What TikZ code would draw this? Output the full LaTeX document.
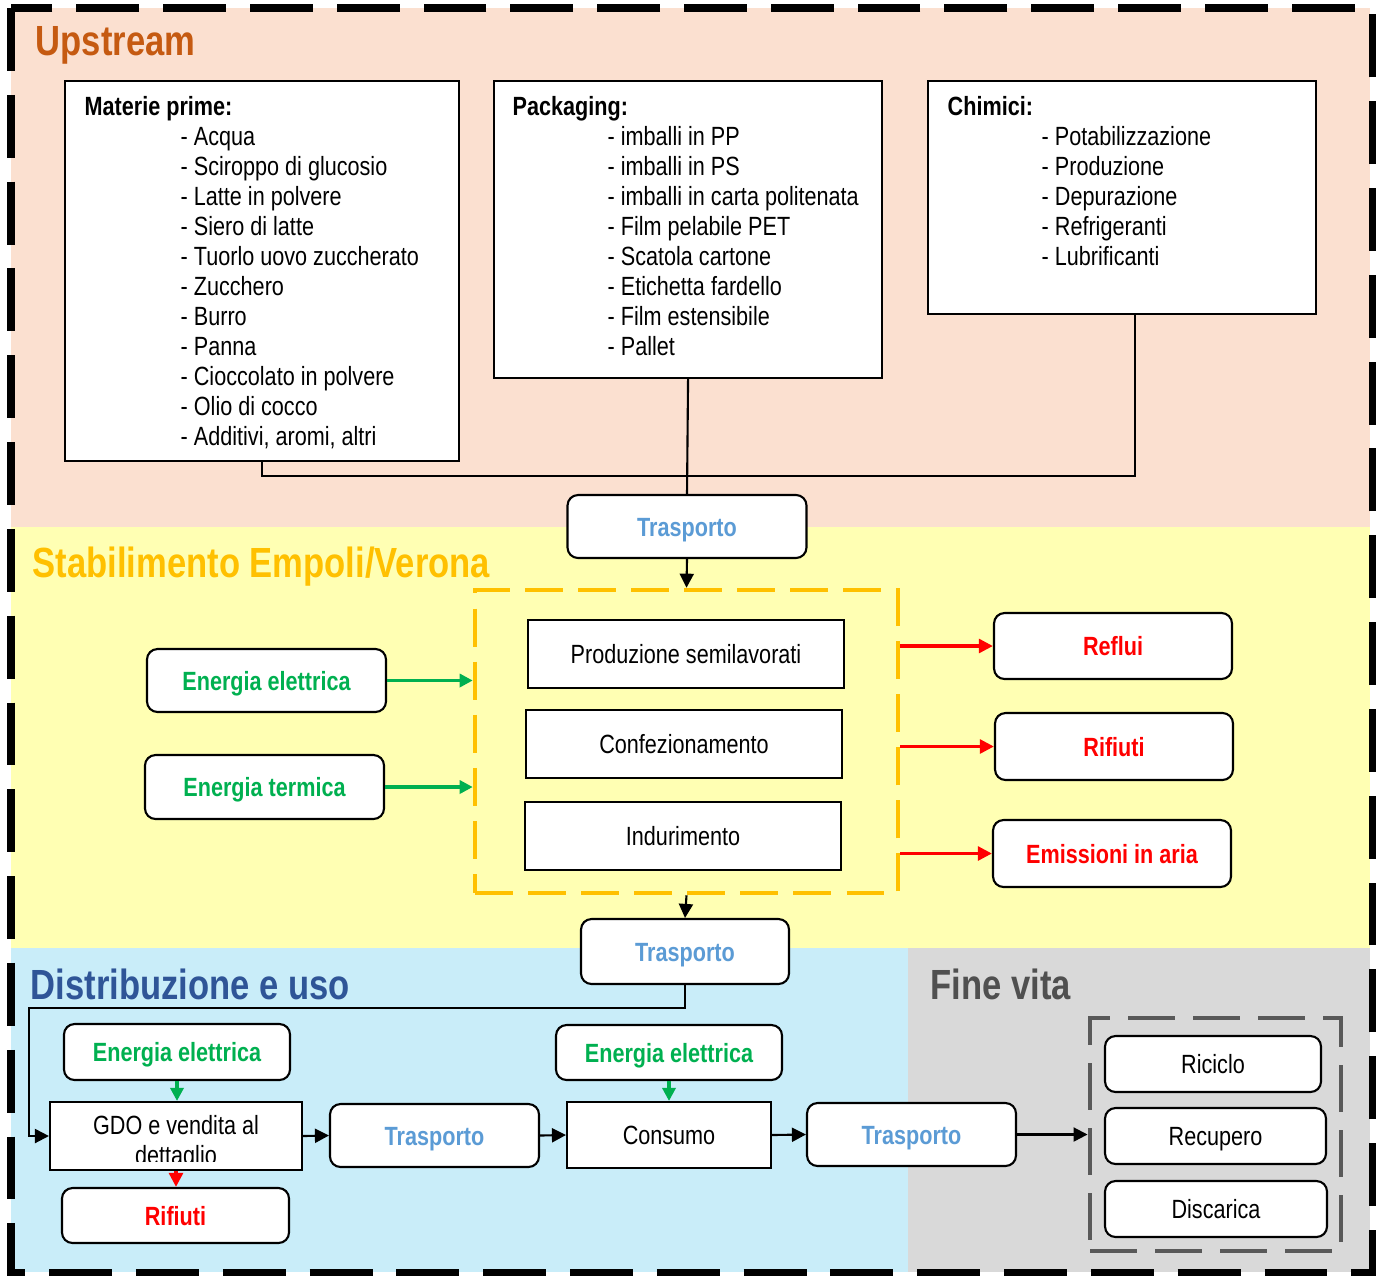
\documentclass[tikz,border=0pt]{standalone}
\usepackage{fontspec}
\setmainfont{Liberation Sans}[FakeStretch=0.82]
\usetikzlibrary{arrows.meta,positioning}

\definecolor{upcol}{HTML}{C55A11}
\definecolor{stabcol}{HTML}{FFC000}
\definecolor{distcol}{HTML}{2F5597}
\definecolor{finecol}{HTML}{505050}
\definecolor{upfill}{HTML}{FBE0D0}
\definecolor{stabfill}{HTML}{FFFFB3}
\definecolor{distfill}{HTML}{C9EDF9}
\definecolor{finefill}{HTML}{D9D9D9}
\definecolor{energy}{HTML}{00B050}
\definecolor{trasp}{HTML}{5B9BD5}
\definecolor{waste}{HTML}{FF0000}
\definecolor{dashgray}{HTML}{595959}

\tikzset{
  txt/.style={font=\fontsize{7.5}{8.54}\selectfont},
  zone/.style={anchor=base west, inner sep=0pt, font=\fontsize{12}{14}\selectfont\bfseries},
  listbox/.style={draw, line width=0.6pt, fill=white, anchor=north west, inner sep=0pt},
  listtext/.style={txt, align=left, anchor=north west, inner sep=0pt},
  plainbox/.style={txt, draw, line width=0.6pt, fill=white, text height=5.4pt, text depth=0pt},
  roundbox/.style={plainbox, rounded corners=3pt, font=\fontsize{7.5}{8.54}\selectfont\bfseries},
  flow/.style={line width=0.6pt, -{Triangle[length=4pt,width=4pt]}},
  inflow/.style={energy, line width=1.1pt, -{Triangle[length=3.7pt,width=3.7pt]}},
  outflow/.style={waste, line width=1.1pt, -{Triangle[length=4pt,width=3.9pt]}},
}

\begin{document}
\begin{tikzpicture}
\useasboundingbox (0,0) rectangle (13.81,-12.76);

%% The coloured zones
\fill[upfill] (0.11,-0.08) rectangle (13.70,-5.27);
\fill[stabfill] (0.11,-5.27) rectangle (13.70,-9.48);
\fill[distfill] (0.11,-9.48) rectangle (9.08,-12.72);
\fill[finefill] (9.08,-9.48) rectangle (13.70,-12.72);

%% The zone titles
\node[zone, text=upcol] (t-up) at (0.35,-0.55) {Upstream};
\node[zone, text=stabcol] (t-stab) at (0.32,-5.77) {Stabilimento Empoli/Verona};
\node[zone, text=distcol] (t-dist) at (0.30,-9.99) {Distribuzione e uso};
\node[zone, text=finecol] (t-fine) at (9.30,-9.99) {Fine vita};

%% Upstream boxes
\node[listbox, minimum width=3.94cm, minimum height=3.80cm] (materie) at (0.64,-0.80) {};
\node[listtext] (materie-txt) at ([shift={(0.20,-0.16)}]materie.north west) {\textbf{Materie prime:}\\
\hspace*{0.96cm}- Acqua\\
\hspace*{0.96cm}- Sciroppo di glucosio\\
\hspace*{0.96cm}- Latte in polvere\\
\hspace*{0.96cm}- Siero di latte\\
\hspace*{0.96cm}- Tuorlo uovo zuccherato\\
\hspace*{0.96cm}- Zucchero\\
\hspace*{0.96cm}- Burro\\
\hspace*{0.96cm}- Panna\\
\hspace*{0.96cm}- Cioccolato in polvere\\
\hspace*{0.96cm}- Olio di cocco\\
\hspace*{0.96cm}- Additivi, aromi, altri};

\node[listbox, minimum width=3.88cm, minimum height=2.97cm] (packaging) at (4.93,-0.80) {};
\node[listtext] (packaging-txt) at ([shift={(0.19,-0.16)}]packaging.north west) {\textbf{Packaging:}\\
\hspace*{0.95cm}- imballi in PP\\
\hspace*{0.95cm}- imballi in PS\\
\hspace*{0.95cm}- imballi in carta politenata\\
\hspace*{0.95cm}- Film pelabile PET\\
\hspace*{0.95cm}- Scatola cartone\\
\hspace*{0.95cm}- Etichetta fardello\\
\hspace*{0.95cm}- Film estensibile\\
\hspace*{0.95cm}- Pallet};

\node[listbox, minimum width=3.88cm, minimum height=2.33cm] (chimici) at (9.27,-0.80) {};
\node[listtext] (chimici-txt) at ([shift={(0.20,-0.16)}]chimici.north west) {\textbf{Chimici:}\\
\hspace*{0.94cm}- Potabilizzazione\\
\hspace*{0.94cm}- Produzione\\
\hspace*{0.94cm}- Depurazione\\
\hspace*{0.94cm}- Refrigeranti\\
\hspace*{0.94cm}- Lubrificanti};

\node[roundbox, text=trasp, minimum width=2.39cm, minimum height=0.63cm] (trasp1) at (6.87,-5.265) {Trasporto};

%% joining the upstream boxes
\coordinate (join) at (6.87,-4.76);
\draw[line width=0.6pt] (materie.south) |- (join) -| ([xshift=0.13cm]chimici.south);
\draw[line width=0.6pt] (packaging.south) -- (trasp1.north);

%% Stabilimento
\node[draw=stabcol, line width=1.3pt, dash pattern=on 10.8pt off 4.3pt, minimum width=4.23cm, minimum height=3.03cm] (stab) at (6.865,-7.415) {};
\node[plainbox, minimum width=3.16cm, minimum height=0.68cm] (prod) at (6.86,-6.54) {Produzione semilavorati};
\node[plainbox, minimum width=3.16cm, minimum height=0.68cm] (conf) at (6.84,-7.44) {Confezionamento};
\node[plainbox, minimum width=3.16cm, minimum height=0.68cm] (indur) at (6.83,-8.36) {Indurimento};

\node[roundbox, text=energy, minimum width=2.39cm, minimum height=0.63cm] (el1) at (2.665,-6.805) {Energia elettrica};
\node[roundbox, text=energy, minimum width=2.39cm, minimum height=0.64cm] (term) at (2.645,-7.87) {Energia termica};

\node[roundbox, text=waste, minimum width=2.38cm, minimum height=0.66cm] (reflui) at (11.13,-6.46) {Reflui};
\node[roundbox, text=waste, minimum width=2.38cm, minimum height=0.67cm] (rifiuti1) at (11.14,-7.465) {Rifiuti};
\node[roundbox, text=waste, minimum width=2.38cm, minimum height=0.67cm] (emiss) at (11.12,-8.535) {Emissioni in aria};

\node[roundbox, text=trasp, minimum width=2.08cm, minimum height=0.65cm] (trasp2) at (6.85,-9.515) {Trasporto};

\draw[flow] (trasp1.south) -- (stab.north);
\draw[inflow] (el1.east) -- (el1.east -| stab.west);
\draw[inflow] (term.east) -- (term.east -| stab.west);
\draw[outflow] (stab.east |- reflui.west) -- (reflui.west);
\draw[outflow] (stab.east |- rifiuti1.west) -- (rifiuti1.west);
\draw[outflow] (stab.east |- emiss.west) -- (emiss.west);
\draw[flow] (stab.south) -- (trasp2.north);

%% Distribuzione e uso
\node[plainbox, minimum width=2.52cm, minimum height=0.68cm] (gdo) at (1.76,-11.36) {};
\begin{scope}
\clip (gdo.north west) rectangle ([yshift=0.10cm]gdo.south east);
\node[txt, align=center] (gdo-txt) at (1.76,-11.43) {GDO e vendita al\\dettaglio};
\end{scope}

\node[roundbox, text=energy, minimum width=2.26cm, minimum height=0.56cm] (el3) at (1.77,-10.52) {Energia elettrica};
\node[roundbox, text=waste, minimum width=2.27cm, minimum height=0.55cm] (rif2) at (1.755,-12.155) {Rifiuti};
\node[roundbox, text=trasp, minimum width=2.09cm, minimum height=0.63cm] (trasp3) at (4.345,-11.355) {Trasporto};
\node[plainbox, minimum width=2.04cm, minimum height=0.66cm] (consumo) at (6.69,-11.35) {Consumo};
\node[roundbox, text=energy, minimum width=2.26cm, minimum height=0.55cm] (el4) at (6.69,-10.525) {Energia elettrica};
\node[roundbox, text=trasp, minimum width=2.09cm, minimum height=0.63cm] (trasp4) at (9.115,-11.345) {Trasporto};

\coordinate (bend) at (0.29,-10.08);
\draw[flow] (trasp2.south) |- (bend) |- (gdo.west);
\draw[flow] (gdo.east) -- (trasp3.west);
\draw[flow] (trasp3.east) -- (consumo.west);
\draw[flow] (consumo.east) -- (trasp4.west);
\draw[inflow] (el3.south) -- (el3.south |- gdo.north);
\draw[inflow] (el4.south) -- (el4.south |- consumo.north);
\draw[outflow] (gdo.south) -- (gdo.south |- rif2.north);

%% Fine vita
\node[draw=dashgray, line width=1.4pt, dash pattern=on 13.3pt off 5.2pt, minimum width=2.51cm, minimum height=2.33cm] (finebox) at (12.155,-11.345) {};
\node[plainbox, rounded corners=3pt, minimum width=2.16cm, minimum height=0.56cm] (riciclo) at (12.13,-10.64) {Riciclo};
\node[plainbox, rounded corners=3pt, minimum width=2.21cm, minimum height=0.56cm] (recupero) at (12.155,-11.36) {Recupero};
\node[plainbox, rounded corners=3pt, minimum width=2.22cm, minimum height=0.56cm] (discarica) at (12.16,-12.09) {Discarica};
\draw[flow] (trasp4.east) -- (finebox.west);

%% The outer border
\draw[line width=2pt, dash pattern=on 17.9pt off 6.8pt] (0.11,-0.08) rectangle (13.72,-12.72);

\end{tikzpicture}
\end{document}
